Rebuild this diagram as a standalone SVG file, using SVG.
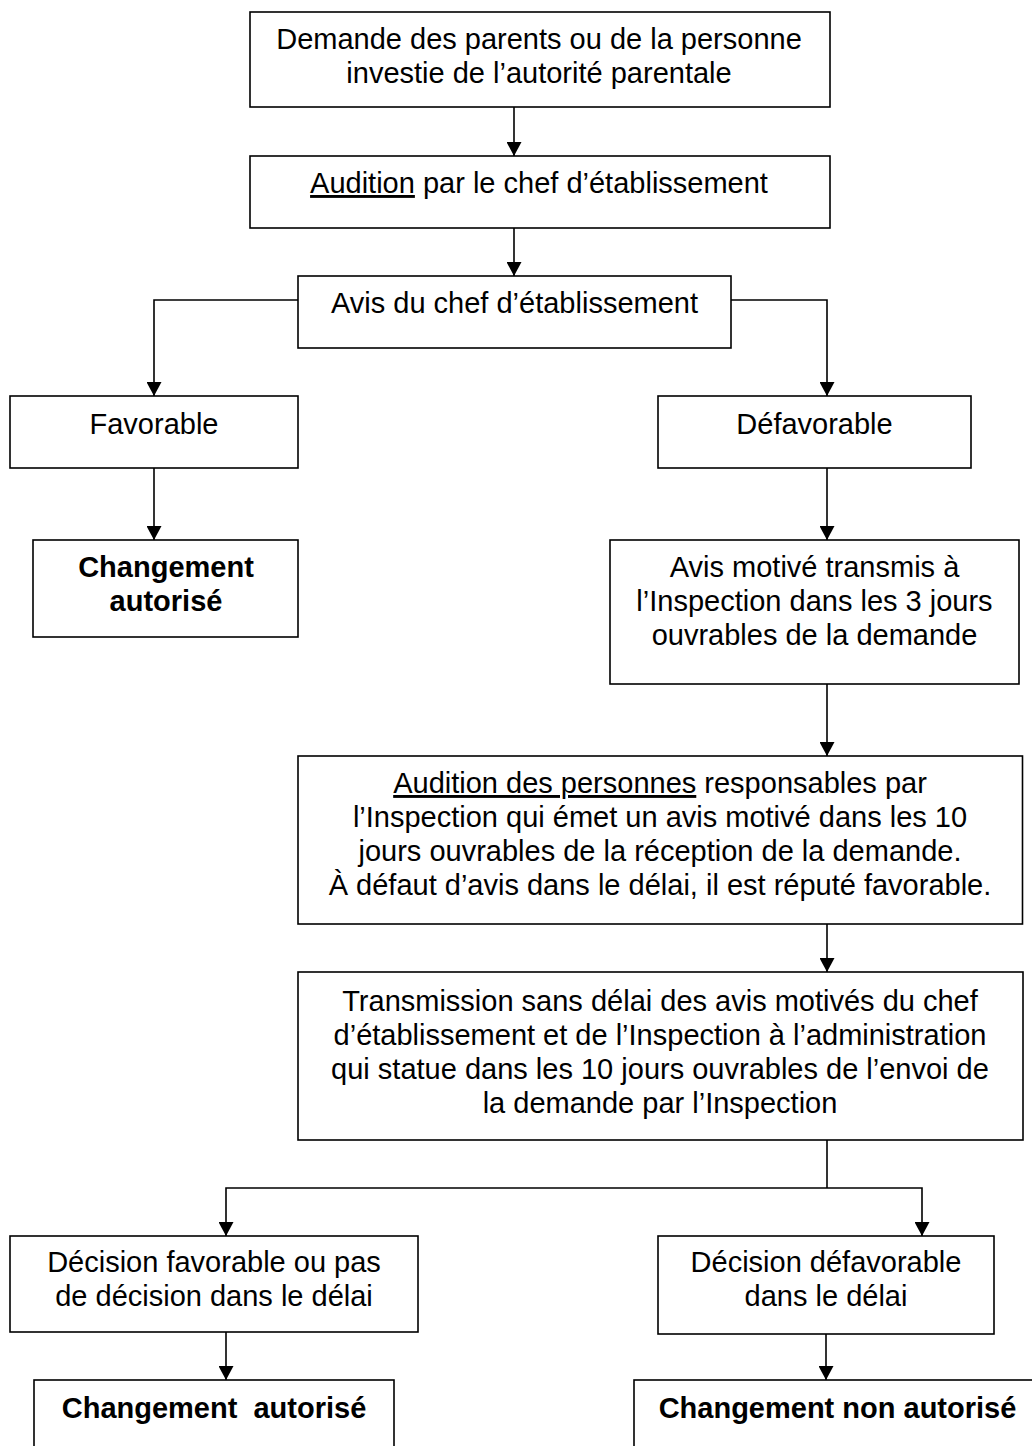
<svg xmlns="http://www.w3.org/2000/svg" width="1032" height="1446" viewBox="0 0 1032 1446">
<style>
.box{fill:#fff;stroke:#000;stroke-width:1.6}
.t{font-family:"Liberation Sans",Arial,sans-serif;font-size:29px;fill:#000;text-anchor:middle}
.b{font-weight:bold}
.c{fill:none;stroke:#000;stroke-width:1.6}
</style>
<defs>
<marker id="ah" viewBox="0 0 14 15" markerWidth="14" markerHeight="15" refX="14" refY="7.5" orient="auto" markerUnits="userSpaceOnUse">
<path d="M0,0 L14,7.5 L0,15 z" fill="#000"/>
</marker>
</defs>
<rect width="1032" height="1446" fill="#fff"/>
<g id="connectors">
<path class="c" d="M514,107 V156" marker-end="url(#ah)"/>
<path class="c" d="M514,228 V276" marker-end="url(#ah)"/>
<path class="c" d="M298,300 H154 V396" marker-end="url(#ah)"/>
<path class="c" d="M731,300 H827 V396" marker-end="url(#ah)"/>
<path class="c" d="M154,468 V540" marker-end="url(#ah)"/>
<path class="c" d="M827,468 V540" marker-end="url(#ah)"/>
<path class="c" d="M827,684 V756" marker-end="url(#ah)"/>
<path class="c" d="M827,924 V972" marker-end="url(#ah)"/>
<path class="c" d="M827,1140 V1188"/>
<path class="c" d="M827,1188 H226 V1236" marker-end="url(#ah)"/>
<path class="c" d="M827,1188 H922 V1236" marker-end="url(#ah)"/>
<path class="c" d="M226,1332 V1380" marker-end="url(#ah)"/>
<path class="c" d="M826,1334 V1380" marker-end="url(#ah)"/>
</g>
<g id="demande">
<rect class="box" x="250" y="12" width="580" height="95"/>
<text class="t" x="539" y="49">Demande des parents ou de la personne</text>
<text class="t" x="539" y="83">investie de l’autorité parentale</text>
</g>
<g id="audition-chef">
<rect class="box" x="250" y="156" width="580" height="72"/>
<text class="t" x="539" y="193"><tspan text-decoration="underline">Audition</tspan> par le chef d’établissement</text>
</g>
<g id="avis-chef">
<rect class="box" x="298" y="276" width="433" height="72"/>
<text class="t" x="514.5" y="313">Avis du chef d’établissement</text>
</g>
<g id="favorable">
<rect class="box" x="10" y="396" width="288" height="72"/>
<text class="t" x="154" y="434">Favorable</text>
</g>
<g id="changement-autorise-1">
<rect class="box" x="33" y="540" width="265" height="97"/>
<text class="t b" x="166" y="577">Changement</text>
<text class="t b" x="166" y="611">autorisé</text>
</g>
<g id="defavorable">
<rect class="box" x="658" y="396" width="313" height="72"/>
<text class="t" x="814.5" y="434">Défavorable</text>
</g>
<g id="avis-motive">
<rect class="box" x="610" y="540" width="409" height="144"/>
<text class="t" x="814.5" y="577">Avis motivé transmis à</text>
<text class="t" x="814.5" y="611">l’Inspection dans les 3 jours</text>
<text class="t" x="814.5" y="645">ouvrables de la demande</text>
</g>
<g id="audition-personnes">
<rect class="box" x="298" y="756" width="724.5" height="168"/>
<text class="t" x="660" y="793"><tspan text-decoration="underline">Audition des personnes</tspan> responsables par</text>
<text class="t" x="660" y="827">l’Inspection qui émet un avis motivé dans les 10</text>
<text class="t" x="660" y="861">jours ouvrables de la réception de la demande.</text>
<text class="t" x="660" y="895">À défaut d’avis dans le délai, il est réputé favorable.</text>
</g>
<g id="transmission">
<rect class="box" x="298" y="972" width="725" height="168"/>
<text class="t" x="660" y="1011">Transmission sans délai des avis motivés du chef</text>
<text class="t" x="660" y="1045">d’établissement et de l’Inspection à l’administration</text>
<text class="t" x="660" y="1079">qui statue dans les 10 jours ouvrables de l’envoi de</text>
<text class="t" x="660" y="1113">la demande par l’Inspection</text>
</g>
<g id="decision-favorable">
<rect class="box" x="10" y="1236" width="408" height="96"/>
<text class="t" x="214" y="1272">Décision favorable ou pas</text>
<text class="t" x="214" y="1306">de décision dans le délai</text>
</g>
<g id="decision-defavorable">
<rect class="box" x="658" y="1236" width="336" height="98"/>
<text class="t" x="826" y="1272">Décision défavorable</text>
<text class="t" x="826" y="1306">dans le délai</text>
</g>
<g id="changement-autorise-2">
<rect class="box" x="34" y="1380" width="360" height="90"/>
<text class="t b" x="214" y="1418" xml:space="preserve">Changement  autorisé</text>
</g>
<g id="changement-non-autorise">
<rect class="box" x="634" y="1380" width="420" height="90"/>
<text class="t b" x="837.5" y="1418">Changement non autorisé</text>
</g>
</svg>
